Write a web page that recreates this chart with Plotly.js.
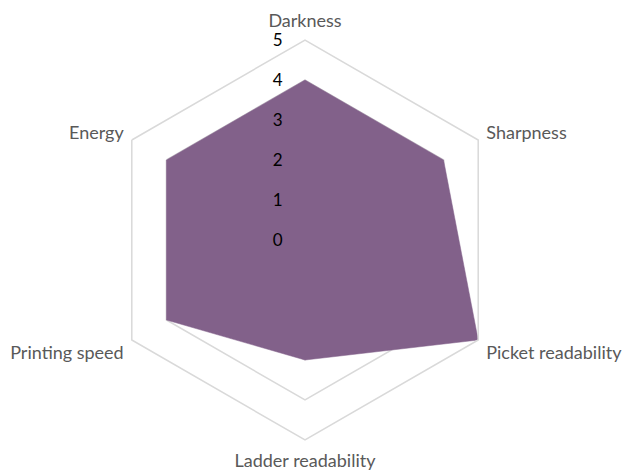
<!DOCTYPE html>
<html>
<head>
<meta charset="utf-8">
<script src="https://cdn.plot.ly/plotly-3.0.1.min.js"></script>
<style>html,body{margin:0;padding:0;background:#fff;}#chart{width:631px;height:472px;}</style>
</head>
<body>
<div id="chart"></div>
<script>
const categories = ["Darkness", "Sharpness", "Picket readability", "Ladder readability", "Printing speed", "Energy"];
const values = [4, 4, 5, 3, 4, 4];
const radialTicks = [0, 1, 2, 3, 4, 5];

const trace = {
  type: 'scatterpolar',
  r: values.concat([values[0]]),
  theta: categories.concat([categories[0]]),
  fill: 'toself',
  fillcolor: '#82618A',
  line: {color: '#82618A', width: 0.5},
  mode: 'lines',
  hoverinfo: 'skip'
};

const layout = {
  width: 631, height: 472,
  margin: {l: 105, r: 126, t: 40, b: 32},
  paper_bgcolor: '#fff',
  showlegend: false,
  font: {family: 'Lato, Open Sans, sans-serif'},
  polar: {
    bgcolor: 'rgba(0,0,0,0)',
    gridshape: 'linear',
    domain: {x: [0, 1], y: [0, 1]},
    radialaxis: {
      range: [0, 5],
      tickvals: radialTicks,
      ticktext: radialTicks.map(String),
      angle: 90,
      tickangle: 90,
      showline: false,
      ticks: 'outside', ticklen: 16, tickcolor: 'rgba(0,0,0,0)',
      side: 'counterclockwise',
      tickfont: {size: 17, color: '#000'},
      gridcolor: '#d9d9d9', gridwidth: 1.5
    },
    angularaxis: {
      direction: 'clockwise',
      rotation: 90,
      showgrid: false,
      showline: true,
      linecolor: '#d9d9d9', linewidth: 1.5,
      ticks: 'outside', ticklen: 5, tickcolor: 'rgba(0,0,0,0)',
      tickfont: {size: 18, color: '#595959'}
    }
  }
};

Plotly.newPlot('chart', [trace], layout, {displayModeBar: false, staticPlot: true});
</script>
</body>
</html>
